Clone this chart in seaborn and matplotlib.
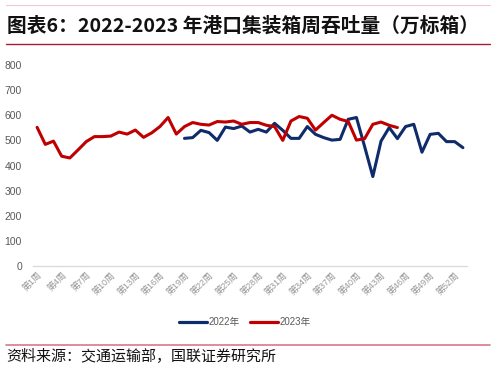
import matplotlib
matplotlib.use("Agg")
import matplotlib.pyplot as plt
from matplotlib.lines import Line2D
import numpy as np
import pandas as pd
import seaborn as sns

sns.set_style("white")
plt.rcParams['font.family'] = ['Liberation Sans', 'Noto Sans CJK SC']

# weekly container throughput (10k TEU), weeks 1..53
weeks = list(range(1, 54))
tp_2023 = [552, 484, 497, 437, 430, 462, 495, 515, 515, 517,
           533, 525, 541, 512, 530, 555, 591, 525, 555, 571,
           564, 561, 575, 573, 577, 564, 571, 571, 560, 555,
           500, 577, 595, 588, 541, 571, 600, 584, 575, 501,
           507, 564, 573, 560, 551]
# 2022 series only available from week 19
tp_2022 = [508, 511, 540, 531, 500, 553, 547, 557, 533, 544,
           533, 568, 540, 508, 508, 555, 524, 511, 501, 504,
           584, 591, 475, 356, 497, 551, 507, 555, 564, 453,
           524, 528, 495, 495, 471]
start_2022 = 19

tick_weeks = list(range(1, 53, 3))
tick_labels = [f"第{w}周" for w in tick_weeks]

df = pd.concat([
    pd.DataFrame({"week": weeks[start_2022 - 1:start_2022 - 1 + len(tp_2022)],
                  "value": tp_2022, "year": "2022年"}),
    pd.DataFrame({"week": weeks[:len(tp_2023)], "value": tp_2023, "year": "2023年"}),
])

fig = plt.figure(figsize=(4.95, 3.69), dpi=100)
ax = fig.add_axes([33 / 495, 1 - 266 / 369, 434 / 495, 201 / 369])

sns.lineplot(data=df, x="week", y="value", hue="year",
             palette={"2022年": "#0E2C6B", "2023年": "#C00000"},
             linewidth=2.2, ax=ax, legend=False)

ax.set_xlim(0.5, 53.5)
ax.set_ylim(0, 800)
ax.set_yticks(range(0, 801, 100))
ax.set_xticks(tick_weeks)
ax.set_xticklabels(tick_labels, rotation=45, ha="right", rotation_mode="anchor",
                   fontsize=6.5, color="#999999")
ax.tick_params(axis="y", labelsize=7.5, labelcolor="#595959", length=0, pad=8)
ax.tick_params(axis="x", length=0, pad=3)
ax.set_xlabel("")
ax.set_ylabel("")
for s in ["top", "right", "left"]:
    ax.spines[s].set_visible(False)
ax.spines["bottom"].set_color("#D9D9D9")
ax.spines["bottom"].set_linewidth(0.9)

handles = [Line2D([], [], color="#0E2C6B", lw=2.3),
           Line2D([], [], color="#C00000", lw=2.3)]
fig.legend(handles, ["2022年", "2023年"], loc="center", ncol=2,
           bbox_to_anchor=(245 / 495, 1 - 322 / 369), frameon=False,
           fontsize=7, labelcolor="#595959", handlelength=2.9,
           handletextpad=0.2, columnspacing=1.0)

# title and frame lines
fig.add_artist(Line2D([6 / 495, 490 / 495], [1 - 5 / 369] * 2, color="#F0C8D0", lw=0.8))
fig.text(7 / 495, 1 - 26 / 369, "图表6：2022-2023 年港口集装箱周吞吐量（万标箱）",
         fontsize=14.2, fontweight="bold", family=["Noto Sans CJK SC"],
         va="center", ha="left", color="#111111")
fig.add_artist(Line2D([6 / 495, 490 / 495], [1 - 44 / 369] * 2, color="#A61C3C", lw=1.0))
fig.add_artist(Line2D([6 / 495, 490 / 495], [1 - 345 / 369] * 2, color="#D9788C", lw=1.2))
fig.text(6 / 495, 1 - 357 / 369, "资料来源：交通运输部，国联证券研究所",
         fontsize=10.8, family=["Noto Sans CJK SC"], va="center", ha="left",
         color="#111111")

fig.savefig("out.png", dpi=100)
